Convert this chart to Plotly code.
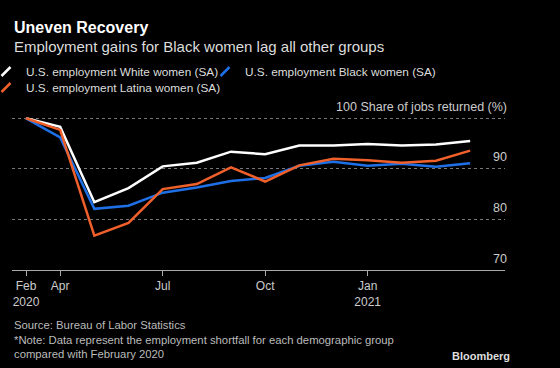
import plotly.graph_objects as go

months = ["2020-02", "2020-03", "2020-04", "2020-05", "2020-06", "2020-07", "2020-08",
          "2020-09", "2020-10", "2020-11", "2020-12", "2021-01", "2021-02", "2021-03"]
white = [100, 98.3, 83.4, 86.2, 90.5, 91.2, 93.4, 92.9, 94.6, 94.6, 94.9, 94.6, 94.8, 95.5]
black = [100, 96.2, 82.1, 82.7, 85.3, 86.3, 87.6, 88.2, 90.6, 91.4, 90.6, 91.0, 90.4, 91.1]
latina = [100, 97.7, 76.8, 79.3, 86.0, 87.0, 90.3, 87.5, 90.7, 92.0, 91.7, 91.2, 91.6, 93.6]

x_tickvals = ["2020-02", "2020-03", "2020-06", "2020-09", "2020-12"]
x_ticktext = ["Feb<br>2020", "Apr", "Jul", "Oct", "Jan<br>2021"]
y_tickvals = [70, 80, 90, 100]
y_ticktext = ["70", "80", "90", "100 Share of jobs returned (%)"]

names = ["U.S. employment White women (SA)", "U.S. employment Black women (SA)",
         "U.S. employment Latina women (SA)"]
colors = ["#ffffff", "#1f6fe6", "#f0602b"]
legend_ids = ["legend", "legend2", "legend3"]

FONT = "Liberation Sans, Arial, sans-serif"
H = 170.0  # plot-area height in px
W = 493.0  # plot-area width in px

def py(pix):
    return (270 - pix) / H

def px(pix):
    return (pix - 12) / W

fig = go.Figure()
for name, vals, c in zip(names, [white, black, latina], colors):
    fig.add_trace(go.Scatter(x=months, y=vals, mode="lines", name=name,
                             line=dict(color=c, width=2.5), showlegend=False))
# legend entries drawn with slash-shaped symbols, as in the original
for name, c, lg in zip(names, colors, legend_ids):
    fig.add_trace(go.Scatter(x=[None], y=[None], mode="markers", name=name, legend=lg,
                             marker=dict(symbol="line-ne", size=9, color=c,
                                         line=dict(width=2.5, color=c)),
                             showlegend=True, hoverinfo="skip"))

leg_common = dict(orientation="h", xanchor="left", yanchor="top",
                  font=dict(size=11.8, color="#dddddd", family=FONT),
                  bgcolor="rgba(0,0,0,0)", itemwidth=30)

fig.update_layout(
    width=560, height=368,
    paper_bgcolor="#000000", plot_bgcolor="#000000",
    margin=dict(l=12, r=55, t=100, b=98, autoexpand=False),
    font=dict(family=FONT, color="#cccccc", size=12),
    showlegend=True,
    legend=dict(x=px(-14), y=py(57), **leg_common),
    legend2=dict(x=px(205), y=py(57), **leg_common),
    legend3=dict(x=px(-14), y=py(73), **leg_common),
    xaxis=dict(type="category", categoryorder="array", categoryarray=months,
               range=[-0.41, 14.02], tickvals=x_tickvals, ticktext=x_ticktext,
               anchor="free", position=0,
               showgrid=False, showline=True, linecolor="#aaaaaa", linewidth=1,
               ticks="outside", ticklen=5, tickcolor="#aaaaaa",
               tickfont=dict(size=12, color="#cccccc"), zeroline=False),
    yaxis=dict(side="left", anchor="free", position=1, range=[70, 103.62],
               tickvals=y_tickvals, ticktext=y_ticktext,
               ticklabelposition="outside top", ticks="", ticklabelshift=-3, ticklabelstandoff=-2,
               showgrid=True, gridcolor="#777777", gridwidth=1, griddash="dot",
               zeroline=False, showline=False,
               tickfont=dict(size=12.5, color="#cccccc")),
    annotations=[
        dict(text="<b>Uneven Recovery</b>", xref="paper", yref="paper", x=0, y=py(27),
             xanchor="left", yanchor="middle", showarrow=False,
             font=dict(size=16, color="#ffffff", family=FONT)),
        dict(text="Employment gains for Black women lag all other groups", xref="paper", yref="paper",
             x=0, y=py(46), xanchor="left", yanchor="middle", showarrow=False,
             font=dict(size=15, color="#dddddd", family=FONT)),
        dict(text="Source: Bureau of Labor Statistics<br>*Note: Data represent the employment shortfall for each demographic group<br>compared with February 2020",
             xref="paper", yref="paper", x=0, y=py(317), xanchor="left", yanchor="top",
             align="left", showarrow=False, font=dict(size=11.3, color="#bbbbbb", family=FONT)),
        dict(text="<b>Bloomberg</b>", xref="paper", yref="paper", x=px(512),
             y=py(356), xanchor="right", yanchor="middle", showarrow=False,
             font=dict(size=11, color="#dddddd", family=FONT)),
    ],
)

fig.write_html("out.html", config={"displayModeBar": False},
               post_script="document.body.style.margin='0';document.body.style.padding='0';")
